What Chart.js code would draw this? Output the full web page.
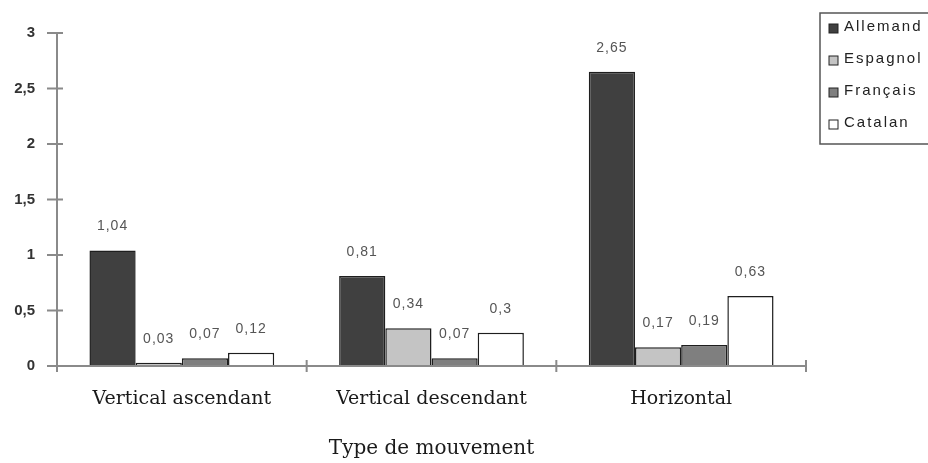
<!DOCTYPE html>
<html>
<head>
<meta charset="utf-8">
<script src="https://cdn.jsdelivr.net/npm/chart.js@4.4.1/dist/chart.umd.min.js"></script>
<style>
    html, body { margin: 0; padding: 0; background: #ffffff; }
    #wrap { width: 928px; height: 463px; position: relative; }
</style>
</head>
<body>
<div id="wrap"><canvas id="movementChart" width="928" height="463"></canvas></div>
<script>
const categories = ["Vertical ascendant", "Vertical descendant", "Horizontal"];
const languages = ["Allemand", "Espagnol", "Français", "Catalan"];
const allemand = [1.04, 0.81, 2.65];
const espagnol = [0.03, 0.34, 0.17];
const francais = [0.07, 0.07, 0.19];
const catalan = [0.12, 0.3, 0.63];
const yTicks = [0, 0.5, 1, 1.5, 2, 2.5, 3];

const fills = ["#404040", "#c4c4c4", "#7f7f7f", "#ffffff"];
const axisColor = "#8a8a8a";
const sansFont = "'Liberation Sans', Arial, sans-serif";
const serifFont = "'DejaVu Serif', 'Liberation Serif', serif";

function frenchNumber(v) {
    return String(v).replace(".", ",");
}

// value labels above each bar
const valueLabels = {
    id: "valueLabels",
    afterDatasetsDraw(chart) {
        const ctx = chart.ctx;
        ctx.save();
        ctx.font = "14px " + sansFont;
        ctx.letterSpacing = "1px";
        ctx.fillStyle = "#555";
        ctx.textAlign = "center";
        ctx.textBaseline = "middle";
        chart.data.datasets.forEach((ds, i) => {
            chart.getDatasetMeta(i).data.forEach((bar, j) => {
                ctx.fillText(frenchNumber(ds.data[j]), bar.x, bar.y - 24);
            });
        });
        ctx.restore();
    },
};

// axes drawn by hand so ticks cross the lines
const crossTicks = {
    id: "crossTicks",
    afterDraw(chart) {
        const ctx = chart.ctx;
        const area = chart.chartArea;
        const y = chart.scales.y;
        const x = chart.scales.x;
        ctx.save();
        ctx.strokeStyle = axisColor;
        ctx.lineWidth = 2;
        ctx.beginPath();
        ctx.moveTo(area.left, area.top);
        ctx.lineTo(area.left, area.bottom + 6);
        ctx.moveTo(area.left - 10, area.bottom);
        ctx.lineTo(area.right, area.bottom);
        yTicks.forEach((v) => {
            const py = y.getPixelForValue(v);
            ctx.moveTo(area.left - 10, py);
            ctx.lineTo(area.left + 6, py);
        });
        const step = (area.right - area.left) / categories.length;
        for (let i = 1; i <= categories.length; i++) {
            const px = x.getPixelForValue(i - 1) + step / 2;
            ctx.moveTo(px, area.bottom - 6);
            ctx.lineTo(px, area.bottom + 6);
        }
        ctx.stroke();
        ctx.restore();
    },
};

const boxLegend = {
    id: "boxLegend",
    afterDraw(chart) {
        const ctx = chart.ctx;
        const left = chart.chartArea.right + 14;
        const top = 13;
        ctx.save();
        ctx.strokeStyle = "#555";
        ctx.lineWidth = 1.5;
        ctx.strokeRect(left, top, 140, 131);
        ctx.font = "15px " + sansFont;
        ctx.letterSpacing = "2px";
        ctx.textBaseline = "middle";
        chart.data.datasets.forEach((ds, i) => {
            const cy = top + 14 + i * 32;
            ctx.fillStyle = ds.backgroundColor;
            ctx.fillRect(left + 9, cy - 3, 9, 9);
            ctx.strokeStyle = "#222";
            ctx.lineWidth = 1;
            ctx.strokeRect(left + 9, cy - 3, 9, 9);
            ctx.fillStyle = "#222";
            ctx.fillText(ds.label, left + 24, cy);
        });
        ctx.restore();
    },
};

const seriesValues = [allemand, espagnol, francais, catalan];

new Chart(document.getElementById("movementChart").getContext("2d"), {
    type: "bar",
    data: {
        labels: categories,
        datasets: languages.map((name, i) => ({
            label: name,
            data: seriesValues[i],
            backgroundColor: fills[i],
            borderColor: "#1e1e1e",
            borderWidth: 1.5,
            barPercentage: 1,
            categoryPercentage: 0.74,
        })),
    },
    options: {
        responsive: false,
        animation: false,
        layout: { padding: { left: 0, top: 33, right: 122, bottom: 0 } },
        plugins: {
            legend: { display: false },
            tooltip: { enabled: false },
        },
        scales: {
            y: {
                min: 0,
                max: 3,
                afterFit: (scale) => { scale.width = 57; },
                afterBuildTicks: (scale) => {
                    scale.ticks = yTicks.map((v) => ({ value: v }));
                },
                ticks: {
                    padding: 14,
                    color: "#333",
                    font: { family: sansFont, size: 15, weight: "bold" },
                    callback: (value) => frenchNumber(value),
                },
                grid: { display: false },
                border: { display: false },
            },
            x: {
                afterFit: (scale) => { scale.height = 97; },
                ticks: {
                    padding: 14,
                    color: "#1a1a1a",
                    font: { family: serifFont, size: 19 },
                },
                grid: { display: false },
                border: { display: false },
                title: {
                    display: true,
                    text: "Type de mouvement",
                    color: "#1a1a1a",
                    font: { family: serifFont, size: 20 },
                    padding: { top: 0, bottom: 2 },
                },
            },
        },
    },
    plugins: [valueLabels, crossTicks, boxLegend],
});
</script>
</body>
</html>
